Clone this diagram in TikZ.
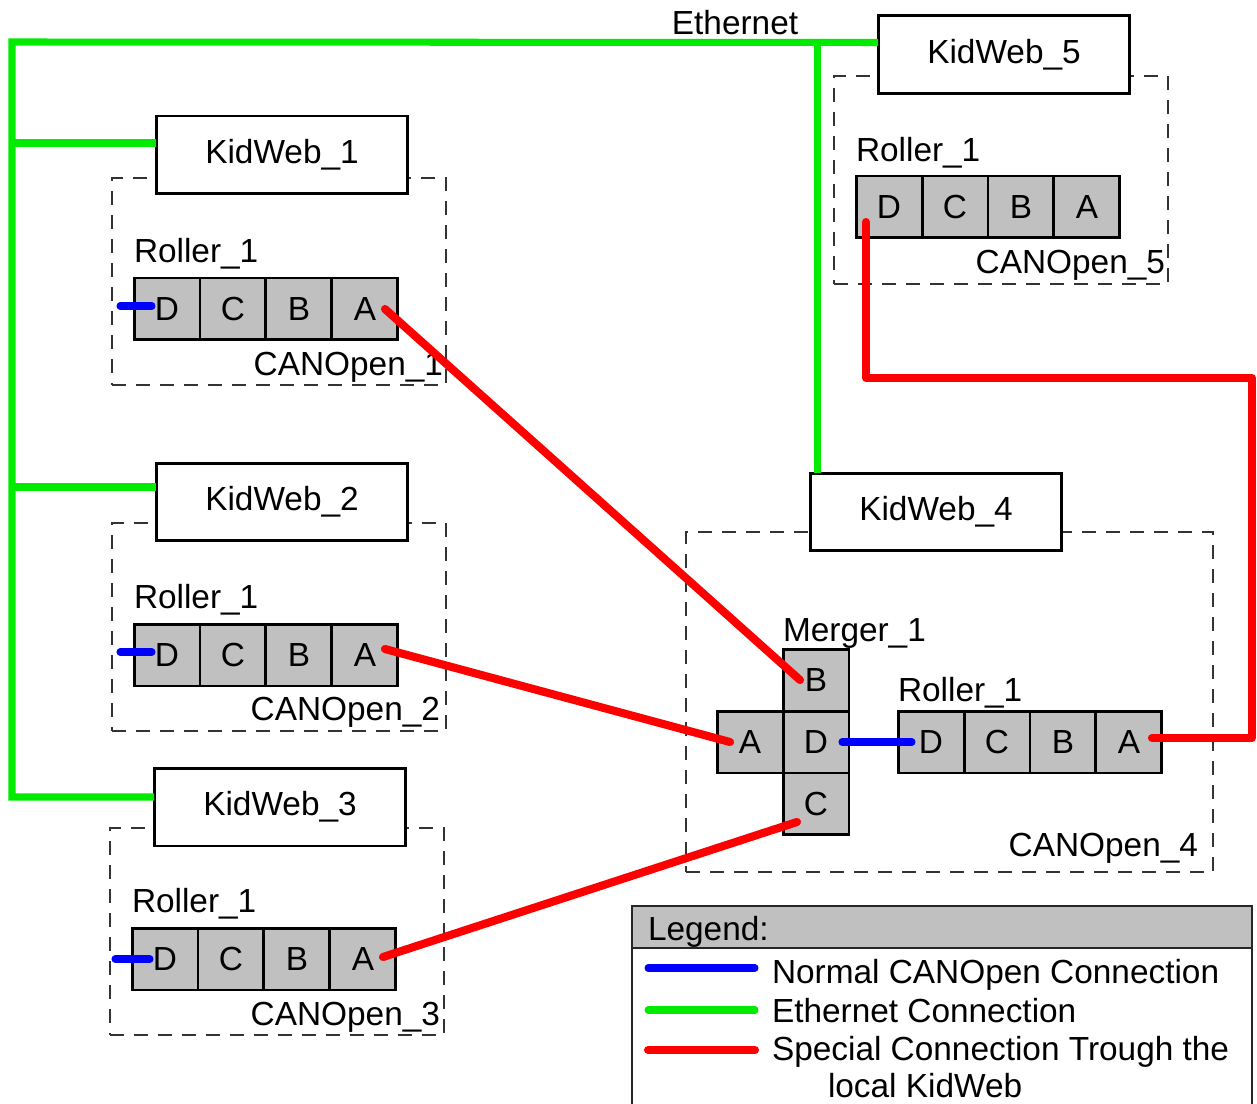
\documentclass[tikz,border=0pt]{standalone}
\usepackage{fontspec}
\setmainfont{Liberation Sans}
\usepackage{tikz}
\usetikzlibrary{positioning}
\usetikzlibrary{calc}
\usepackage{xcolor}

\definecolor{cellgray}{RGB}{192,192,192}
\definecolor{ethgreen}{RGB}{0,235,0}
\definecolor{canblue}{RGB}{0,0,255}
\definecolor{specred}{RGB}{255,0,0}

\tikzset{
  cell/.style={draw, fill=cellgray, line width=1.7pt, minimum width=1.32cm,
    minimum height=1.24cm, inner sep=0pt, outer sep=0pt},
  kidweb/.style={draw, fill=white, line width=1.7pt, minimum width=5.04cm,
    minimum height=1.56cm, outer sep=0pt},
  canframe/.style={draw=black!80, dash pattern=on 0.28cm off 0.2cm,
    line width=1pt, inner sep=0pt, outer sep=0pt},
  txt/.style={inner sep=0pt, outer sep=0pt},
  ether/.style={draw=ethgreen, line width=4pt},
  canline/.style={draw=canblue, line width=4pt, line cap=round},
  special/.style={draw=specred, line width=4.6pt, line cap=round, line join=round},
}

% a roller: four ports D C B A, left to right
\newcommand{\rollerrow}[2]{%
  \node[cell] (#1D) at #2 {D};
  \node[cell, right=0pt of #1D] (#1C) {C};
  \node[cell, right=0pt of #1C] (#1B) {B};
  \node[cell, right=0pt of #1B] (#1A) {A};
}

\begin{document}
\begin{tikzpicture}[x=0.02cm, y=-0.02cm, font=\fontsize{19}{22}\selectfont]

			\fill[white] (0,0) rectangle (1257,1104);
			\useasboundingbox (0,0) rectangle (1257,1104);

			% CANOpen segments (dashed)
			\node[canframe, minimum width=6.68cm, minimum height=4.14cm] (can1) at (279,281.5) {};
			\node[canframe, minimum width=6.68cm, minimum height=4.16cm] (can2) at (279,627) {};
			\node[canframe, minimum width=6.68cm, minimum height=4.14cm] (can3) at (277,931.5) {};
			\node[canframe, minimum width=10.54cm, minimum height=6.8cm] (can4) at (949.5,702) {};
			\node[canframe, minimum width=6.68cm, minimum height=4.16cm] (can5) at (1001,180) {};

			\node[txt, anchor=base east] (can1name) at ([xshift=-0.06cm, yshift=0.18cm]can1.south east) {CANOpen\_1};
			\node[txt, anchor=base east] (can2name) at ([xshift=-0.12cm, yshift=0.2cm]can2.south east) {CANOpen\_2};
			\node[txt, anchor=base east] (can3name) at ([xshift=-0.08cm, yshift=0.18cm]can3.south east) {CANOpen\_3};
			\node[txt, anchor=base east] (can4name) at ([xshift=-0.3cm, yshift=0.3cm]can4.south east) {CANOpen\_4};
			\node[txt, anchor=base east] (can5name) at ([xshift=-0.06cm, yshift=0.2cm]can5.south east) {CANOpen\_5};

			% KidWeb modules
			\node[kidweb] (kw1) at (282,155) {KidWeb\_1};
			\node[kidweb] (kw2) at (282,502) {KidWeb\_2};
			\node[kidweb] (kw3) at (280,807) {KidWeb\_3};
			\node[kidweb] (kw4) at (936,512) {KidWeb\_4};
			\node[kidweb] (kw5) at (1004,54.5) {KidWeb\_5};

			% rollers
			\rollerrow{ra}{(167,309)}
			\rollerrow{rb}{(167,655)}
			\rollerrow{rc}{(165,959)}
			\rollerrow{rd}{(931,742)}
			\rollerrow{re}{(889,207)}

			\node[txt, anchor=base west] (raname) at ([yshift=0.32cm]raD.north west) {Roller\_1};
			\node[txt, anchor=base west] (rbname) at ([yshift=0.32cm]rbD.north west) {Roller\_1};
			\node[txt, anchor=base west] (rcname) at ([yshift=0.32cm]rcD.north west) {Roller\_1};
			\node[txt, anchor=base west] (rdname) at ([yshift=0.2cm]rdD.north west) {Roller\_1};
			\node[txt, anchor=base west] (rename) at ([yshift=0.3cm]reD.north west) {Roller\_1};

			% merger: D in the middle, A left, B above, C below
			\node[cell] (mD) at (816,742) {D};
			\node[cell, left=0pt of mD] (mA) {A};
			\node[cell, above=0pt of mD] (mB) {B};
			\node[cell, below=0pt of mD] (mC) {C};
			\node[txt, anchor=base west] (mname) at ([yshift=0.16cm]mB.north west) {Merger\_1};

			% Ethernet
			\coordinate (ethTL) at (12,42);
			\coordinate (tap1) at ([yshift=-0.54cm]kw1.north west);
			\coordinate (tap2) at ([yshift=-0.48cm]kw2.north west);
			\coordinate (tap3) at ([yshift=-0.58cm]kw3.north west);
			\coordinate (tap4) at ([xshift=0.14cm]kw4.north west);
			\coordinate (tap5) at ([yshift=-0.54cm]kw5.north west);
			\draw[ether] (tap5) -- (ethTL) |- (tap3);
			\draw[ether] (tap1) -- (tap1 -| ethTL);
			\draw[ether] (tap2) -- (tap2 -| ethTL);
			\draw[ether] (tap4) -- (tap4 |- ethTL);
			\node[txt, anchor=base] (ethname) at (735,35) {Ethernet};

			% normal CANOpen links
			\draw[canline] ([xshift=-0.94cm, yshift=0.06cm]raD.center) -- ([xshift=-0.3cm, yshift=0.06cm]raD.center);
			\draw[canline] ([xshift=-0.94cm, yshift=0.06cm]rbD.center) -- ([xshift=-0.3cm, yshift=0.06cm]rbD.center);
			\draw[canline] ([xshift=-1cm]rcD.center) -- ([xshift=-0.3cm]rcD.center);
			\draw[canline] ([xshift=0.52cm]mD.center) -- ([xshift=-0.38cm]rdD.center);

			% special links through the local KidWeb
			\draw[special] ([xshift=0.4cm]raA.center) -- ([xshift=-0.32cm]mB.center);
			\draw[special] ([xshift=0.4cm, yshift=0.12cm]rbA.center) -- ([xshift=-0.4cm]mA.center);
			\draw[special] ([xshift=0.4cm, yshift=0.04cm]rcA.center) -- ([xshift=-0.38cm, yshift=-0.36cm]mC.center);
			\coordinate (loopR) at (1252,378);
			\draw[special] ([xshift=0.46cm, yshift=0.08cm]rdA.center) -| (loopR)
			  -| ([xshift=-0.46cm, yshift=-0.3cm]reD.center);

			% legend
			\fill[cellgray] (632,906) rectangle (1252,948);
			\draw[line width=1pt, black!85] (632,1104) |- (1252,906) -- (1252,1104);
			\draw[line width=1pt, black!85] (632,948) -- (1252,948);
			\node[txt, anchor=base west] (lghead) at (648,940) {Legend:};
			\node[txt, anchor=base west] (lgcan) at (772,983) {Normal CANOpen Connection};
			\node[txt, anchor=base west] (lgeth) at (772,1022) {Ethernet Connection};
			\node[txt, anchor=base west] (lgspec) at (772,1060) {Special Connection Trough the};
			\node[txt, anchor=base west] (lglocal) at (828,1097) {local KidWeb};
			\draw[canline] ([xshift=-0.34cm, yshift=0.3cm]lgcan.base west) -- ++(-2.14cm,0);
			\draw[ether, line cap=round] ([xshift=-0.34cm, yshift=0.24cm]lgeth.base west) -- ++(-2.14cm,0);
			\draw[special] ([xshift=-0.34cm, yshift=0.2cm]lgspec.base west) -- ++(-2.14cm,0);

		\end{tikzpicture}
\end{document}
